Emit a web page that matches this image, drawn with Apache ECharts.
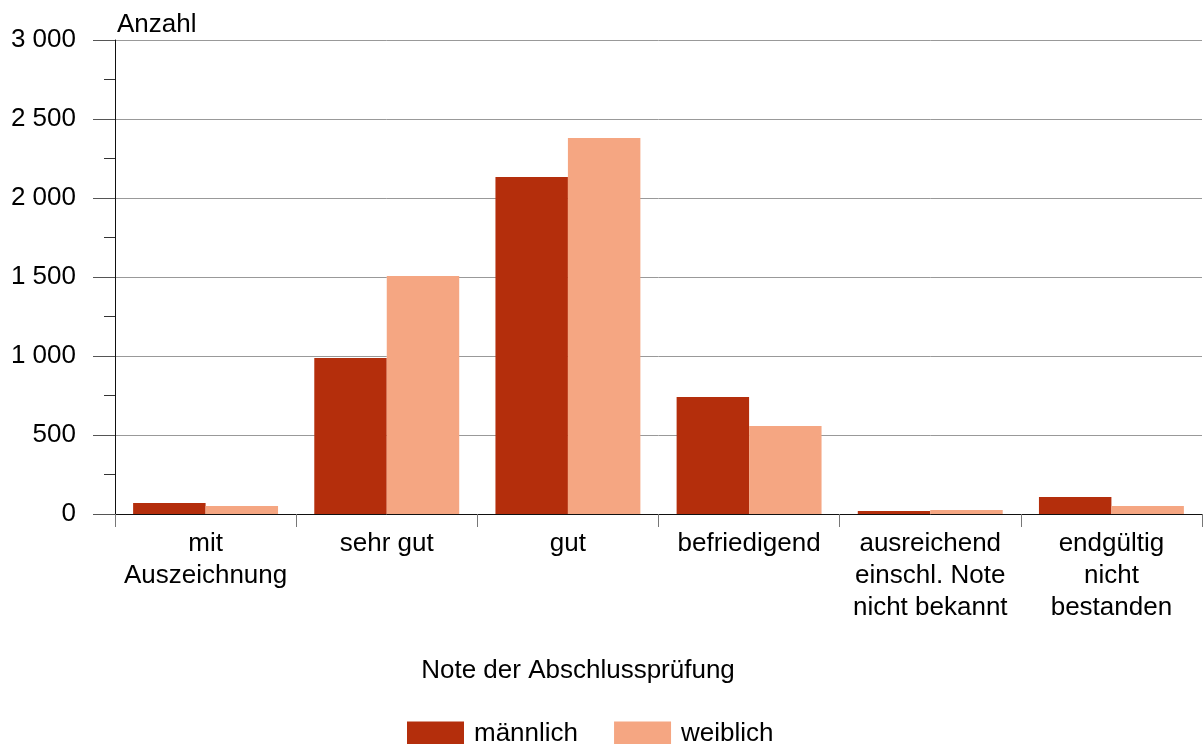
<!DOCTYPE html>
<html>
<head>
<meta charset="utf-8">
<script src="https://cdn.jsdelivr.net/npm/echarts@6/dist/echarts.min.js"></script>
<style>
html,body{margin:0;padding:0;background:#fff;}
#chart{width:1203px;height:744px;}
</style>
</head>
<body>
<div id="chart"></div>
<script>
const categories = ['mit\nAuszeichnung', 'sehr gut', 'gut', 'befriedigend', 'ausreichend\neinschl. Note\nnicht bekannt', 'endgültig\nnicht\nbestanden'];
const maennlich = [70, 987, 2133, 741, 19, 108];
const weiblich = [51, 1506, 2380, 557, 25, 51];
const yTicks = {min: 0, max: 3000, interval: 500};
const seriesNames = ['männlich', 'weiblich'];

const FONT = '"Liberation Sans", Arial, sans-serif';
const chart = echarts.init(document.getElementById('chart'));
chart.setOption({
  animation: false,
  backgroundColor: '#fff',
  textStyle: {fontFamily: FONT},
  grid: {left: 115, right: 1, top: 40, bottom: 230, containLabel: false},
  legend: {
    data: seriesNames,
    left: 402, top: 716,
    itemWidth: 57, itemHeight: 25, itemGap: 36,
    icon: 'rect',
    textStyle: {fontSize: 26, color: '#000', fontFamily: FONT, padding: [0, 0, 0, 5]}
  },
  graphic: [
    {type: 'text', style: {text: 'Anzahl', x: 117, y: 25, font: '26px ' + FONT, fill: '#000', align: 'left', verticalAlign: 'middle'}},
    {type: 'text', style: {text: 'Note der Abschlussprüfung', x: 578, y: 671, font: '26px ' + FONT, fill: '#000', align: 'center', verticalAlign: 'middle'}}
  ],
  xAxis: {
    type: 'category',
    data: categories,
    axisLine: {show: true, lineStyle: {color: '#111', width: 1}},
    axisTick: {show: true, alignWithLabel: false, interval: 0, length: 13, lineStyle: {color: '#777'}},
    axisLabel: {interval: 0, margin: 14, fontSize: 26, lineHeight: 32, color: '#000', fontFamily: FONT, align: 'center'},
    splitLine: {show: false}
  },
  yAxis: {
    type: 'value',
    min: yTicks.min, max: yTicks.max, interval: yTicks.interval,
    axisLine: {show: true, lineStyle: {color: '#111', width: 1}},
    axisTick: {show: true, length: 22, lineStyle: {color: '#555'}},
    minorTick: {show: true, splitNumber: 2, length: 11, lineStyle: {color: '#333'}},
    axisLabel: {margin: 39, fontSize: 26, color: '#000', fontFamily: FONT,
      formatter: v => String(v).replace(/\B(?=(\d{3})+(?!\d))/g, ' ')},
    splitLine: {show: true, lineStyle: {color: '#999', width: 1}}
  },
  series: [
    {name: seriesNames[0], type: 'bar', data: maennlich, barGap: '0%', barCategoryGap: '20%', itemStyle: {color: '#b42e0c'}},
    {name: seriesNames[1], type: 'bar', data: weiblich, barGap: '0%', barCategoryGap: '20%', itemStyle: {color: '#f5a682'}}
  ]
});
</script>
</body>
</html>
